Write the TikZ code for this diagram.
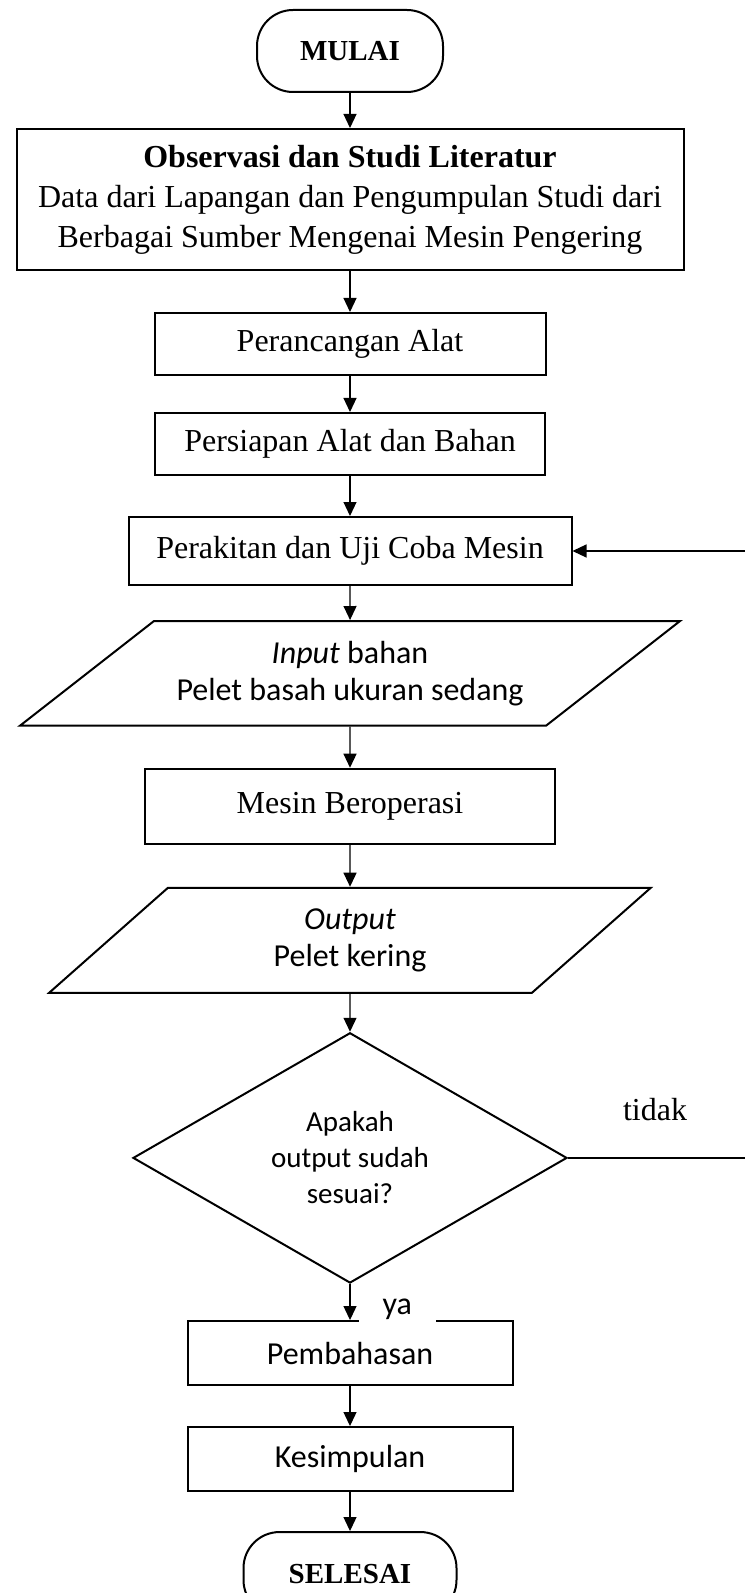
\documentclass[tikz,border=0pt]{standalone}
\usepackage{fontspec}
\setmainfont{Liberation Serif}
\newfontfamily\calibri{Carlito}
\usetikzlibrary{shapes.geometric, arrows.meta, positioning}

\begin{document}
\begin{tikzpicture}[
  x=0.5pt, y=-0.5pt,
  every node/.style={font=\fontsize{16}{20}\selectfont},
  block/.style={rectangle, draw, line width=1pt, text centered, inner sep=2pt},
  term/.style={rectangle, rounded corners=18pt, draw, line width=1pt,
               minimum height=41pt, font=\fontsize{14.5}{18}\selectfont\bfseries},
  io/.style={trapezium, draw, line width=1pt, trapezium stretches body,
             inner xsep=0pt, inner ysep=10pt, align=flush center,
             font=\calibri\fontsize{16}{18.5}\selectfont},
  decision/.style={diamond, draw, line width=1pt, inner sep=0pt, align=center,
                   minimum width=217pt, minimum height=124pt,
                   font=\calibri\fontsize{14.5}{18}\selectfont},
  arrow/.style={-{Triangle[length=7pt,width=6.5pt]}, line width=0.6pt}
]
\useasboundingbox (0,0) rectangle (744,1593);

%--- Main flow nodes ---%
\node[term, minimum width=93pt] (mulai) at (350,51) {MULAI};
\node[block, minimum width=333.5pt, minimum height=70.5pt, align=center,
      below=17.5pt of mulai] (obs)
  {\textbf{Observasi dan Studi Literatur}\\
   Data dari Lapangan dan Pengumpulan Studi dari\\
   Berbagai Sumber Mengenai Mesin Pengering};
\node[block, minimum width=195.5pt, minimum height=31pt, below=20.5pt of obs] (rancang) {Perancangan Alat};
\node[block, minimum width=195pt, minimum height=31pt, below=18pt of rancang] (siap) {Persiapan Alat dan Bahan};
\node[block, minimum width=221.5pt, minimum height=34pt, below=20pt of siap] (rakit) {Perakitan dan Uji Coba Mesin};
\node[io, trapezium left angle=38, trapezium right angle=142, text width=196pt,
      minimum height=51.5pt, below=17pt of rakit] (input)
  {\textit{Input} bahan\\ Pelet basah ukuran sedang};
\node[block, minimum width=205pt, minimum height=37.5pt, below=20.5pt of input] (mesin) {Mesin Beroperasi};
\node[io, trapezium left angle=41, trapezium right angle=139, text width=182pt,
      minimum height=52.5pt, below=21pt of mesin] (output)
  {\textit{Output}\\ Pelet kering};
\node[decision, below=19pt of output] (cek) {Apakah\\ output sudah\\ sesuai?};
\node[block, minimum width=162.5pt, minimum height=32pt, font=\calibri\fontsize{16}{18}\selectfont,
      below=18pt of cek] (bahas) {Pembahasan};
\node[block, minimum width=162.5pt, minimum height=32pt, font=\calibri\fontsize{16}{18}\selectfont,
      below=20pt of bahas] (simpul) {Kesimpulan};
\node[term, minimum width=106.5pt, minimum height=42pt, below=19.5pt of simpul] (selesai) {SELESAI};

%--- Arrows (main flow) ---%
\draw[arrow] (mulai)   -- (obs);
\draw[arrow] (obs)     -- (rancang);
\draw[arrow] (rancang) -- (siap);
\draw[arrow] (siap)    -- (rakit);
\draw[arrow] (rakit)   -- (input);
\draw[arrow] (input)   -- (mesin);
\draw[arrow] (mesin)   -- (output);
\draw[arrow] (output)  -- (cek);
\draw[arrow] (cek) -- node[pos=0.7, right, xshift=4pt, fill=white, inner xsep=12pt,
      inner ysep=1pt, font=\calibri\fontsize{16}{18}\selectfont] (ya) {ya} (bahas);
\draw[arrow] (bahas)   -- (simpul);
\draw[arrow] (simpul)  -- (selesai);

%--- Feedback (tidak) ---%
\coordinate[right=88pt of rakit.east] (balik);
\node[right=24pt of cek.east, yshift=24pt] (tidak) {tidak};
\draw[arrow] (cek.east) -| (balik) -- (rakit.east);

\end{tikzpicture}
\end{document}
